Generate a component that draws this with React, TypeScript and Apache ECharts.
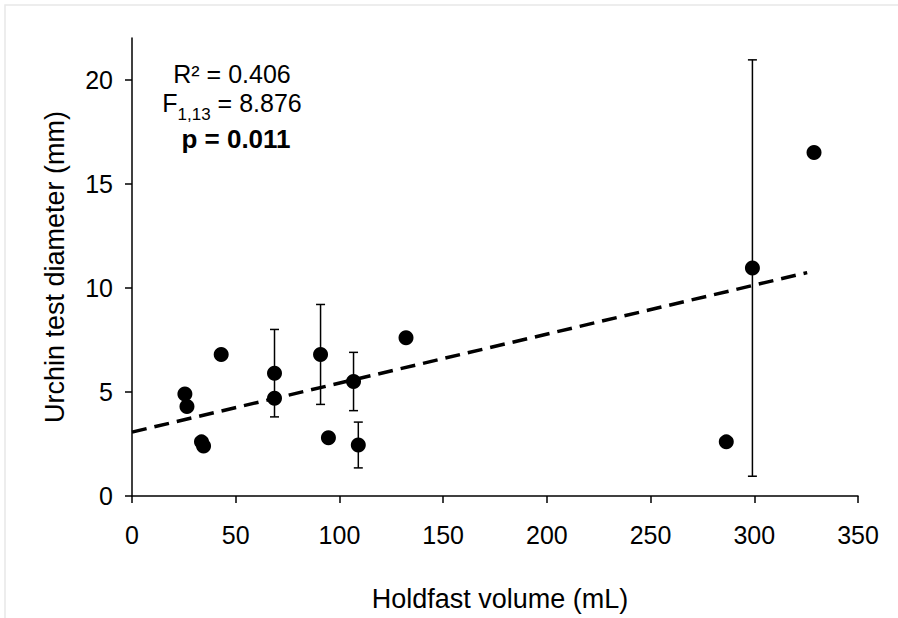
import React, { useEffect, useRef } from "react";
import * as echarts from "echarts";

const volume = [25.5, 26.5, 33.5, 34.5, 43, 68.7, 68.7, 90.9, 94.7, 106.8, 109.1, 132.1, 286.5, 299.1, 328.8];
const diameter = [4.9, 4.3, 2.6, 2.4, 6.8, 5.9, 4.7, 6.8, 2.8, 5.5, 2.45, 7.6, 2.6, 10.95, 16.5];

const errX = [68.7, 90.9, 106.8, 109.1, 299.1];
const errLow = [3.8, 4.4, 4.1, 1.35, 0.95];
const errHigh = [8.0, 9.2, 6.9, 3.55, 20.95];

const trendX = [0, 325.5];
const trendY = [3.07, 10.73];

const xTicks = [0, 50, 100, 150, 200, 250, 300, 350];
const yTicks = [0, 5, 10, 15, 20];

const FONT = "'Liberation Sans', Arial, sans-serif";
const FS = 25;
const TITLE_FS = 27;

export default function App() {
  const ref = useRef<HTMLDivElement>(null);
  useEffect(() => {
    if (!ref.current) return;
    const chart = echarts.init(ref.current, null, { renderer: "svg" });
    const axisCommon = {
      axisLine: { show: true, onZero: false, lineStyle: { color: "#000", width: 1.5 } },
      splitLine: { show: false },
    };
    chart.setOption({
      animation: false,
      backgroundColor: "#fff",
      textStyle: { fontFamily: FONT },
      grid: { left: 132, right: 40, top: 38, bottom: 122 },
      xAxis: {
        type: "value",
        min: 0,
        max: 350,
        interval: 50,
        ...axisCommon,
        name: "Holdfast volume (mL)",
        nameLocation: "middle",
        nameGap: 89,
        nameTextStyle: { fontFamily: FONT, fontSize: TITLE_FS, color: "#000", padding: [0, 0, 0, 10] },
        axisTick: { show: true, inside: false, length: 7, lineStyle: { color: "#000", width: 1.5 }, customValues: xTicks },
        axisLabel: { fontFamily: FONT, fontSize: FS, color: "#000", margin: 26, customValues: xTicks },
      },
      yAxis: {
        type: "value",
        min: 0,
        max: 22,
        ...axisCommon,
        name: "Urchin test diameter (mm)",
        nameLocation: "middle",
        nameGap: 64,
        nameTextStyle: { fontFamily: FONT, fontSize: TITLE_FS, color: "#000" },
        axisTick: { show: true, inside: false, length: 7, lineStyle: { color: "#000", width: 1.5 }, customValues: yTicks },
        axisLabel: { fontFamily: FONT, fontSize: FS, color: "#000", margin: 19, customValues: yTicks },
      },
      graphic: [
        {
          type: "rect",
          shape: { x: 5, y: 5, width: 900, height: 620 },
          style: { fill: "none", stroke: "#e8e8e8", lineWidth: 1.5 },
          silent: true,
        },
        {
          type: "text",
          x: 232,
          y: 74,
          style: { text: "R² = 0.406", fontFamily: FONT, fontSize: FS, fill: "#000", align: "center", verticalAlign: "middle" },
        },
        {
          type: "text",
          x: 232,
          y: 103,
          style: {
            text: "{a|F}{s|1,13}{a| = 8.876}",
            fontFamily: FONT,
            align: "center",
            verticalAlign: "middle",
            rich: {
              a: { fontFamily: FONT, fontSize: FS, fill: "#000", lineHeight: 26, verticalAlign: "top" },
              s: { fontFamily: FONT, fontSize: 17, fill: "#000", lineHeight: 12, padding: [16, 0, 0, 0], verticalAlign: "top" },
            },
          },
        },
        {
          type: "text",
          x: 236,
          y: 139,
          style: { text: "p = 0.011", fontFamily: FONT, fontSize: 26, fontWeight: "bold", fill: "#000", align: "center", verticalAlign: "middle" },
        },
      ],
      series: [
        {
          type: "custom",
          data: errX.map((x, i) => [x, errLow[i], errHigh[i]]),
          encode: { x: 0, y: [1, 2] },
          z: 1,
          renderItem: (params: any, api: any) => {
            const x = api.value(0);
            const lo = api.coord([x, api.value(1)]);
            const hi = api.coord([x, api.value(2)]);
            const hw = 4.5;
            const style = { stroke: "#000", lineWidth: 1.5 };
            return {
              type: "group",
              children: [
                { type: "line", shape: { x1: lo[0], y1: lo[1], x2: hi[0], y2: hi[1] }, style },
                { type: "line", shape: { x1: lo[0] - hw, y1: lo[1], x2: lo[0] + hw, y2: lo[1] }, style },
                { type: "line", shape: { x1: hi[0] - hw, y1: hi[1], x2: hi[0] + hw, y2: hi[1] }, style },
              ],
            };
          },
        },
        {
          type: "line",
          data: trendX.map((x, i) => [x, trendY[i]]),
          showSymbol: false,
          symbol: "none",
          z: 2,
          lineStyle: { color: "#000", width: 3.5, type: [15, 8] },
        },
        {
          type: "scatter",
          data: volume.map((x, i) => [x, diameter[i]]),
          symbol: "circle",
          symbolSize: 15,
          z: 3,
          itemStyle: { color: "#000", opacity: 1 },
        },
      ],
    });
    return () => chart.dispose();
  }, []);
  return <div ref={ref} style={{ position: "absolute", left: 0, top: 0, width: 898, height: 618 }} />;
}
